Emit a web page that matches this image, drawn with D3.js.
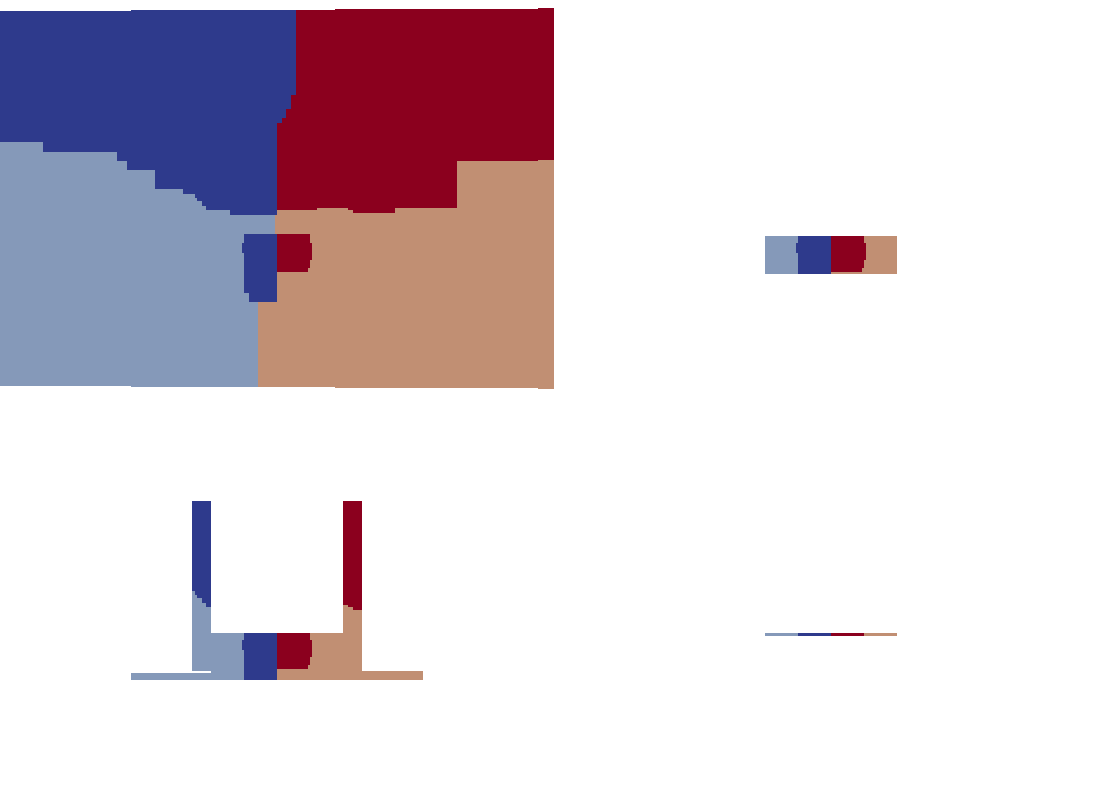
<!DOCTYPE html>
<html><head><meta charset="utf-8">
<script src="https://cdn.jsdelivr.net/npm/d3@7"></script>
<style>html,body{margin:0;padding:0;background:#fff;} svg{display:block;}</style>
</head><body>
<script>
// ---- classes ----
const classNames = ["class 0", "class 1", "class 2", "class 3"];
const classColors = ["#8599b9", "#2e3a8c", "#8b001e", "#c18f73"];

// ---- field extent: raster column blocks [x0, x1, yTop, yBottom] (feature units) ----
const fieldColumns = [
  [-2.77, -1.46, 2.42, -1.33],
  [-1.46, 0.58, 2.43, -1.34],
  [0.58, 2.61, 2.44, -1.35],
  [2.61, 2.77, 2.45, -1.36]
];

// ---- decision regions (feature units), painted in order ----
const regionClass0 = [[-2.77, 2.45], [2.77, 2.45], [2.77, -1.36], [-2.77, -1.36]];
const regionClass3 = [[1.80, 0.92], [2.61, 0.92], [2.61, 0.93], [2.77, 0.93], [2.77, -1.36],
  [-0.19, -1.36], [-0.19, -0.49], [-0.02, -0.49], [-0.02, 0.45], [1.80, 0.45]];
const regionClass1 = [[-2.77, 2.45], [0.19, 2.45], [0.19, 1.58], [0.14, 1.58], [0.14, 1.44],
  [0.09, 1.44], [0.09, 1.35], [0.05, 1.35], [0.05, 1.30], [0.00, 1.30], [0.00, 0.38],
  [-0.47, 0.38], [-0.47, 0.43], [-0.71, 0.43], [-0.71, 0.47], [-0.75, 0.47], [-0.75, 0.52],
  [-0.80, 0.52], [-0.80, 0.55], [-0.82, 0.55], [-0.82, 0.59], [-0.94, 0.59], [-0.94, 0.64],
  [-1.22, 0.64], [-1.22, 0.83], [-1.50, 0.83], [-1.50, 0.92], [-1.60, 0.92], [-1.60, 1.01],
  [-2.34, 1.01], [-2.34, 1.11], [-2.77, 1.11]];
const regionClass2 = [[0.19, 2.45], [2.77, 2.45], [2.77, 0.93], [2.61, 0.93], [2.61, 0.92],
  [1.80, 0.92], [1.80, 0.45], [1.18, 0.45], [1.18, 0.40], [0.76, 0.40], [0.76, 0.43],
  [0.71, 0.43], [0.71, 0.45], [0.40, 0.45], [0.40, 0.43], [0.00, 0.43], [0.00, 1.30],
  [0.05, 1.30], [0.05, 1.35], [0.09, 1.35], [0.09, 1.44], [0.14, 1.44], [0.14, 1.58], [0.19, 1.58]];
const coreClass1 = [[-0.33, 0.19], [0.00, 0.19], [0.00, -0.49], [-0.28, -0.49], [-0.28, -0.40],
  [-0.33, -0.40], [-0.33, 0.00], [-0.35, 0.00], [-0.35, 0.10], [-0.33, 0.10]];
const coreClass2 = [[0.00, 0.19], [0.33, 0.19], [0.33, 0.10], [0.35, 0.10], [0.35, -0.07],
  [0.33, -0.07], [0.33, -0.15], [0.31, -0.15], [0.31, -0.19], [0.00, -0.19]];

const regions = [
  { cls: 0, pts: regionClass0 },
  { cls: 3, pts: regionClass3 },
  { cls: 1, pts: regionClass1 },
  { cls: 2, pts: regionClass2 },
  { cls: 1, pts: coreClass1 },
  { cls: 2, pts: coreClass2 }
];

// ---- views: visible windows of the field [x0, x1, yTop, yBottom] (feature units) ----
const viewFull = null;
const viewTopRight = [[-0.66, 0.66, 0.17, -0.21]];
const viewBottomLeft = [
  [-0.85, -0.66, 1.49, -0.21],
  [-0.66, 0.66, 0.17, -0.30],
  [0.66, 0.85, 1.49, -0.30],
  [-1.46, -0.66, -0.23, -0.30],
  [0.85, 1.46, -0.21, -0.30]
];
const viewBottomRight = [[-0.66, 0.66, 0.17, 0.14]];

// ---- layout ----
const W = 1108, H = 794;
const panelW = 554, panelH = 397;
const panels = [
  { col: 0, row: 0, view: viewFull },
  { col: 1, row: 0, view: viewTopRight },
  { col: 0, row: 1, view: viewBottomLeft },
  { col: 1, row: 1, view: viewBottomRight }
];

const x = d3.scaleLinear().domain([-2.77, 2.77]).range([0, 554]);
const y = d3.scaleLinear().domain([2.53, -1.36]).range([0, 389]);

const svg = d3.select("body").append("svg").attr("width", W).attr("height", H)
  .style("background", "#fff");
svg.append("rect").attr("width", W).attr("height", H).attr("fill", "#fff");
const defs = svg.append("defs");

function rectAttrs(sel) {
  sel.attr("x", d => x(d[0]))
    .attr("y", d => y(d[2]))
    .attr("width", d => x(d[1]) - x(d[0]))
    .attr("height", d => y(d[3]) - y(d[2]));
}

defs.append("clipPath").attr("id", "fieldClip")
  .selectAll("rect").data(fieldColumns).join("rect").call(rectAttrs);

const line = d3.line().x(d => x(d[0])).y(d => y(d[1])).curve(d3.curveLinear);

panels.forEach((p, i) => {
  const g = svg.append("g")
    .attr("transform", `translate(${p.col * panelW},${p.row * panelH})`);
  let host = g;
  if (p.view) {
    defs.append("clipPath").attr("id", "view" + i)
      .selectAll("rect").data(p.view).join("rect").call(rectAttrs);
    host = g.append("g").attr("clip-path", `url(#view${i})`);
  }
  const inner = host.append("g").attr("clip-path", "url(#fieldClip)");
  inner.selectAll("path").data(regions).join("path")
    .attr("d", d => line(d.pts) + "Z")
    .attr("fill", d => classColors[d.cls])
    .attr("shape-rendering", "crispEdges")
    .append("title").text(d => classNames[d.cls]);
});
</script>
</body></html>
